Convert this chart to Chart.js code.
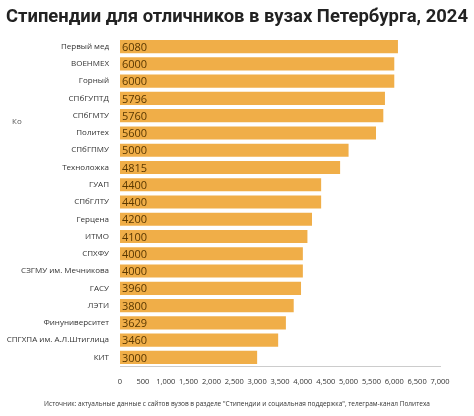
<!DOCTYPE html>
<html><head><meta charset="utf-8">
<script src="https://cdn.jsdelivr.net/npm/chart.js@4"></script>
<style>html,body{margin:0;background:#fff}</style>
</head><body>
<canvas id="c" width="474" height="416"></canvas>
<script>
const universities = ['Первый мед','ВОЕНМЕХ','Горный','СПбГУПТД','СПбГМТУ','Политех','СПбГПМУ','Техноложка','ГУАП','СПбГЛТУ','Герцена','ИТМО','СПХФУ','СЗГМУ им. Мечникова','ГАСУ','ЛЭТИ','Финуниверситет','СПГХПА им. А.Л.Штиглица','КИТ']
const stipends = [6080,6000,6000,5796,5760,5600,5000,4815,4400,4400,4200,4100,4000,4000,3960,3800,3629,3460,3000]
const titleText = 'Стипендии для отличников в вузах Петербурга, 2024'
const sourceText = 'Источник: актуальные данные с сайтов вузов в разделе "Стипендии и социальная поддержка", телеграм-канал Политеха'

const extras = {
  id: 'extras',
  afterDatasetsDraw(chart) {
    const ctx = chart.ctx
    const meta = chart.getDatasetMeta(0)
    ctx.save()
    ctx.font = '11px "Open Sans"'
    ctx.fillStyle = '#5a3800'
    ctx.textBaseline = 'middle'
    meta.data.forEach((bar, i) => {
      ctx.fillText(String(stipends[i]), bar.base + 2, bar.y + 1)
    })
    ctx.fillStyle = '#222'
    ctx.font = 'bold 20px Roboto'
    const w = ctx.measureText(titleText).width
    const size = 20 * 462 / w
    ctx.font = 'bold ' + size.toFixed(2) + 'px Roboto'
    ctx.textAlign = 'center'
    ctx.fillText(titleText, 237, 17)
    ctx.font = '6.5px "Open Sans"'
    ctx.fillStyle = '#333'
    ctx.fillText(sourceText, 237, 404)
    ctx.textAlign = 'left'
    ctx.font = '8px "Open Sans"'
    ctx.fillStyle = '#555'
    ctx.fillText('Ко', 12, 122)
    ctx.restore()
  }
}

new Chart(document.getElementById('c'), {
  type: 'bar',
  data: {
    labels: universities,
    datasets: [{
      data: stipends,
      backgroundColor: '#f0ae48',
      categoryPercentage: 1,
      barPercentage: 0.76
    }]
  },
  options: {
    indexAxis: 'y',
    responsive: false,
    animation: false,
    layout: { padding: { top: 38, right: 34, bottom: 27, left: 0 } },
    plugins: { legend: { display: false }, tooltip: { enabled: false } },
    scales: {
      x: {
        min: 0, max: 7000,
        grid: { display: false },
        border: { display: true, color: '#ccc' },
        ticks: { stepSize: 500, autoSkip: false, color: '#333', font: { size: 7.5, family: 'Open Sans' }, maxRotation: 0,
          callback: v => v.toLocaleString('en-US') }
      },
      y: {
        grid: { display: false },
        border: { display: false },
        afterFit(s) { s.width = 120 },
        ticks: { color: '#333', font: { size: 8, family: 'Open Sans' }, padding: 3 }
      }
    }
  },
  plugins: [extras]
})
</script>
</body></html>
